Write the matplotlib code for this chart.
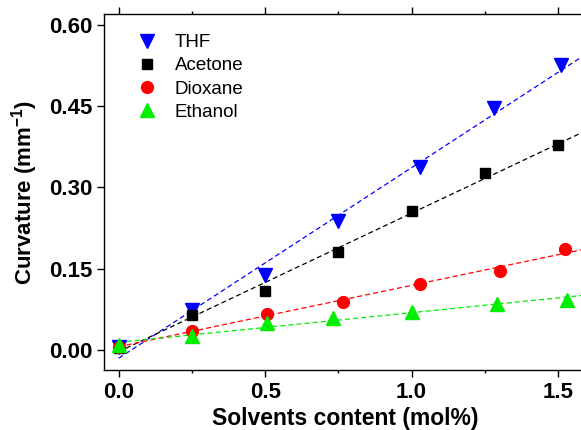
import numpy as np
import matplotlib
matplotlib.use("Agg")
import matplotlib.pyplot as plt
from matplotlib.ticker import MultipleLocator

plt.rcParams['font.family'] = ['Liberation Sans', 'DejaVu Sans']
plt.rcParams['mathtext.fontset'] = 'custom'
plt.rcParams['mathtext.rm'] = 'Liberation Sans'
plt.rcParams['mathtext.bf'] = 'Liberation Sans:bold'

# datos
thf_x = [0.0, 0.25, 0.50, 0.75, 1.03, 1.28, 1.51]
thf_y = [0.005, 0.074, 0.138, 0.237, 0.338, 0.446, 0.526]
ace_x = [0.0, 0.25, 0.50, 0.75, 1.00, 1.25, 1.50]
ace_y = [0.004, 0.065, 0.109, 0.180, 0.257, 0.326, 0.378]
dio_x = [0.0, 0.25, 0.505, 0.765, 1.03, 1.30, 1.525]
dio_y = [0.006, 0.035, 0.066, 0.089, 0.121, 0.146, 0.186]
eth_x = [0.0, 0.25, 0.505, 0.73, 1.00, 1.29, 1.53]
eth_y = [0.008, 0.025, 0.049, 0.058, 0.070, 0.085, 0.092]

series = [
    ("THF", thf_x, thf_y, "#0000ff", "v", 10),
    ("Acetone", ace_x, ace_y, "#000000", "s", 7.5),
    ("Dioxane", dio_x, dio_y, "#ff0000", "o", 8.5),
    ("Ethanol", eth_x, eth_y, "#00ee00", "^", 10),
]

fig = plt.figure(figsize=(5.81, 4.30), dpi=100)
ax = fig.add_axes([0.179, 0.14, 0.832, 0.827])

# ajuste lineal de cada serie
xfit = np.linspace(0.0, 1.62, 50)
for name, x, y, c, m, ms in series:
    p = np.polyfit(x, y, 1)
    ax.plot(xfit, np.polyval(p, xfit), '--', color=c, lw=0.9, dashes=(4, 2.5))
for name, x, y, c, m, ms in series:
    ax.plot(x, y, m, color=c, ms=ms, mec=c, label=name, linestyle='none')

ax.set_xlim(-0.05, 1.6)
ax.set_ylim(-0.037, 0.62)
ax.xaxis.set_major_locator(MultipleLocator(0.5))
ax.xaxis.set_minor_locator(MultipleLocator(0.25))
ax.yaxis.set_major_locator(MultipleLocator(0.15))
ax.xaxis.set_major_formatter(matplotlib.ticker.FormatStrFormatter('%.1f'))
ax.yaxis.set_major_formatter(matplotlib.ticker.FormatStrFormatter('%.2f'))

ax.tick_params(which='both', direction='out', top=True, width=1)
ax.tick_params(which='major', length=5, labelsize=16)
ax.tick_params(which='minor', length=2.5)
for lab in ax.get_xticklabels() + ax.get_yticklabels():
    lab.set_fontweight('bold')
for s in ax.spines.values():
    s.set_linewidth(1.0)

ax.set_xlabel("Solvents content (mol%)", fontsize=16.5, fontweight='bold', labelpad=3)
ax.set_ylabel(r"Curvature (mm$^{\mathbf{-1}}$)", fontsize=16, fontweight='bold', labelpad=6)

ax.legend(loc='upper left', frameon=False, fontsize=13.5, handletextpad=0.7,
          labelspacing=0.32, borderaxespad=0.0, bbox_to_anchor=(0.045, 0.965),
          handlelength=1.5)

plt.savefig("out.png", dpi=100)
